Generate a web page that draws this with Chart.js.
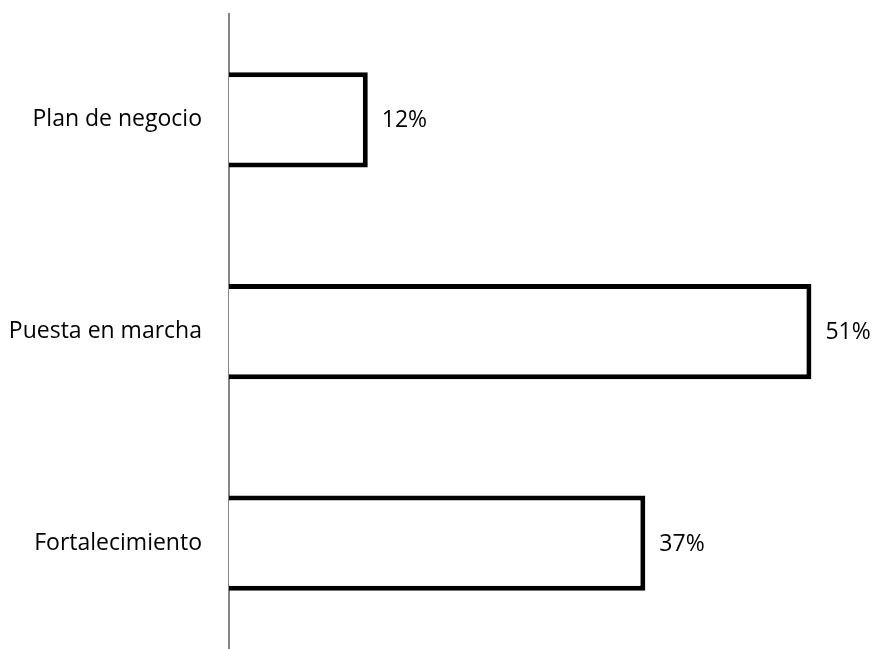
<!DOCTYPE html>
<html>
<head>
<meta charset="utf-8">
<script src="https://cdn.jsdelivr.net/npm/chart.js@4"></script>
<style>
  html, body { margin: 0; padding: 0; background: #fff; overflow: hidden; }
  #wrap { width: 874px; height: 649px; position: relative; }
</style>
</head>
<body>
<div id="wrap"><canvas id="stageChart"></canvas></div>
<script>
// categories and shares
const categories = ['Plan de negocio', 'Puesta en marcha', 'Fortalecimiento'];
const shares = [12.2, 51.2, 36.6];
const shareLabels = ['12%', '51%', '37%'];

const fontFamily = '"Open Sans", Lato, sans-serif';

// draws the percentage next to the end of each bar
const valueLabels = {
    id: 'valueLabels',
    afterDatasetsDraw(chart) {
        const ctx = chart.ctx;
        const meta = chart.getDatasetMeta(0);
        ctx.save();
        ctx.font = '23px ' + fontFamily;
        ctx.fillStyle = '#000';
        ctx.textAlign = 'left';
        ctx.textBaseline = 'middle';
        meta.data.forEach((bar, i) => {
            ctx.fillText(shareLabels[i], bar.x + 14, bar.y + 1);
        });
        ctx.restore();
    }
};

function initStageChart() {
    const ctx = document.getElementById('stageChart').getContext('2d');

    new Chart(ctx, {
        type: 'bar',
        data: {
            labels: categories,
            datasets: [{
                data: shares,
                backgroundColor: '#fff',
                borderColor: '#000',
                borderWidth: 5,
                borderSkipped: 'start',
                barPercentage: 0.45,
                categoryPercentage: 1
            }]
        },
        options: {
            indexAxis: 'y',
            responsive: true,
            maintainAspectRatio: false,
            animation: false,
            layout: { padding: { top: 14, bottom: -9, right: 8, left: 0 } },
            plugins: {
                legend: { display: false },
                tooltip: { enabled: false }
            },
            scales: {
                x: {
                    display: false,
                    min: 0,
                    max: 56
                },
                y: {
                    grid: { display: false, drawTicks: false },
                    border: { display: true, color: '#868686', width: 2 },
                    ticks: {
                        color: '#000',
                        padding: 27,
                        font: { family: fontFamily, size: 23 }
                    },
                    afterFit(scale) {
                        scale.width = 229;
                        // no extra room above/below for the tick labels
                        scale.paddingTop = 0;
                        scale.paddingBottom = 0;
                    }
                }
            }
        },
        plugins: [valueLabels]
    });
}

initStageChart();
</script>
</body>
</html>
